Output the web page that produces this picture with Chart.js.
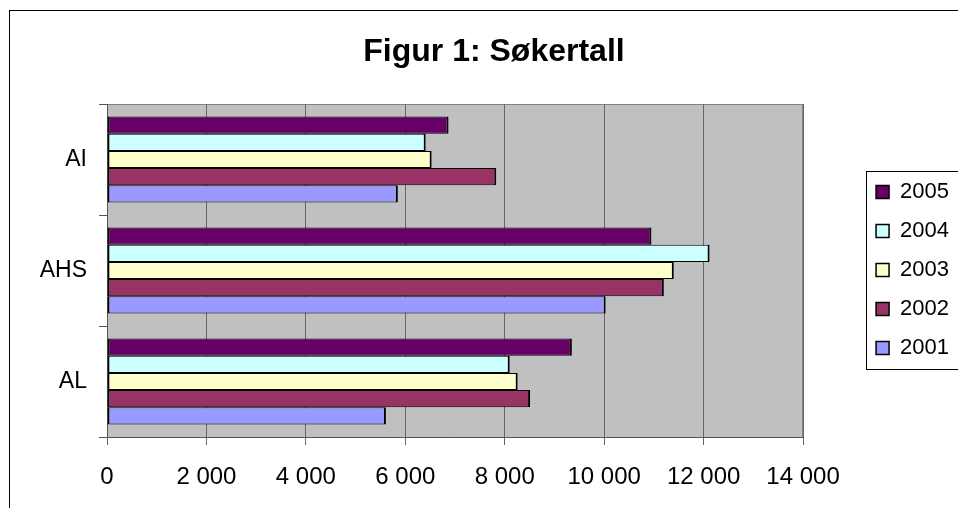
<!DOCTYPE html>
<html>
<head>
<meta charset="utf-8">
<script src="https://cdn.jsdelivr.net/npm/chart.js@4/dist/chart.umd.min.js"></script>
<style>
  html, body { margin: 0; padding: 0; overflow: hidden; background: #fff; }
  canvas { display: block; }
</style>
</head>
<body>
<canvas id="chart" width="959" height="540"></canvas>
<script>
const categories = ["AI", "AHS", "AL"];
const years = ["2005", "2004", "2003", "2002", "2001"];
const values2005 = [6870, 10950, 9350];
const values2004 = [6410, 12120, 8100];
const values2003 = [6530, 11400, 8260];
const values2002 = [7830, 11200, 8510];
const values2001 = [5850, 10030, 5610];
const xTickLabels = ["0", "2 000", "4 000", "6 000", "8 000", "10 000", "12 000", "14 000"];

const colors = ["#660066", "#CCFFFF", "#FFFFCC", "#993366", "#9999FF"];
const series = [values2005, values2004, values2003, values2002, values2001];

const font = "'Liberation Sans', Arial, sans-serif";

// grey plot area and outer frame
const backdrop = {
    id: "backdrop",
    beforeDraw(chart) {
        const { ctx, chartArea: a } = chart;
        ctx.save();
        ctx.strokeStyle = "#000";
        ctx.lineWidth = 1;
        ctx.strokeRect(9.5, 10.5, 2000, 2000);
        ctx.fillStyle = "#C0C0C0";
        ctx.fillRect(a.left, a.top, a.right - a.left, a.bottom - a.top);
        ctx.strokeStyle = "#808080";
        ctx.strokeRect(a.left + 0.5, a.top + 0.5, a.right - a.left - 1, a.bottom - a.top);
        ctx.restore();
    },
    afterDraw(chart) {
        // box round the legend
        const lg = chart.legend;
        const boxes = lg.legendHitBoxes;
        if (!boxes || !boxes.length) return;
        const first = boxes[0], last = boxes[boxes.length - 1];
        const ctx = chart.ctx;
        ctx.save();
        ctx.strokeStyle = "#000";
        ctx.lineWidth = 1;
        const top = Math.round(first.top - 10) + 0.5;
        const bottom = Math.round(last.top + last.height + 10) + 0.5;
        const left = Math.round(first.left - 10) + 0.5;
        ctx.strokeRect(left, top, 500, bottom - top);
        ctx.restore();
    }
};

new Chart(document.getElementById("chart"), {
    type: "bar",
    data: {
        labels: categories,
        datasets: years.map((y, i) => ({
            label: y,
            data: series[i],
            backgroundColor: colors[i],
            borderColor: "#000",
            borderWidth: { top: 1, bottom: 1, left: 2, right: 2 },
            borderSkipped: false,
            categoryPercentage: 0.775,
            barPercentage: 1.0
        }))
    },
    options: {
        indexAxis: "y",
        responsive: false,
        animation: false,
        layout: { padding: { left: 29, right: 0, top: 0, bottom: 0 } },
        plugins: {
            title: {
                display: true,
                text: "Figur 1: Søkertall",
                color: "#000",
                font: { family: font, size: 32, weight: "bold", lineHeight: 1.2 },
                padding: { top: 33, bottom: 32.6 }
            },
            legend: {
                position: "right",
                labels: {
                    color: "#000",
                    font: { family: font, size: 22 },
                    boxWidth: 13,
                    boxHeight: 13,
                    padding: 17
                }
            },
            tooltip: { enabled: false }
        },
        scales: {
            x: {
                min: 0,
                max: 14000,
                ticks: {
                    stepSize: 2000,
                    color: "#000",
                    font: { family: font, size: 24 },
                    padding: 18,
                    maxRotation: 0,
                    callback: (v, i) => xTickLabels[i]
                },
                grid: { color: "#666", tickLength: 8, drawTicks: true },
                border: { display: true, color: "#555" },
                afterFit: s => { s.height = 103; }
            },
            y: {
                ticks: {
                    color: "#000",
                    font: { family: font, size: 23 },
                    padding: 12
                },
                grid: { drawOnChartArea: false, drawTicks: true, tickLength: 8, color: "#555", offset: true },
                border: { display: true, color: "#555" },
                afterFit: s => { s.width = 78; }
            },
            spacer: {
                type: "linear",
                position: "right",
                display: true,
                ticks: { display: false },
                grid: { display: false },
                border: { display: false },
                afterFit: s => { s.width = 56; }
            }
        }
    },
    plugins: [backdrop]
});
</script>
</body>
</html>
